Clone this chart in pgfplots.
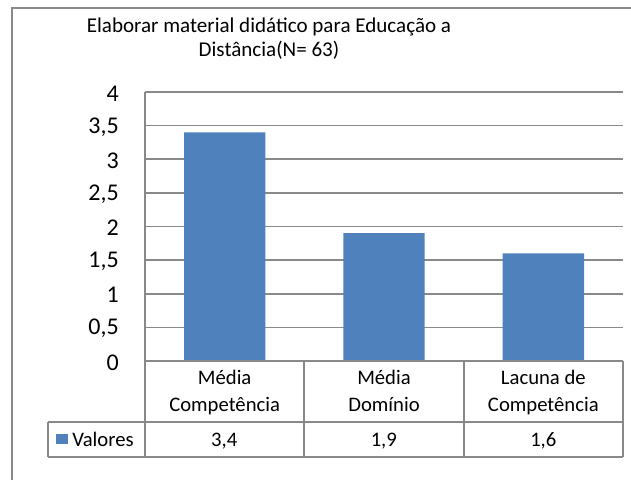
\documentclass[border=0pt]{standalone}
\usepackage{pgfplots}
\pgfplotsset{compat=1.18}
\usepackage{fontspec}
\setmainfont{Carlito}
\definecolor{barblue}{HTML}{4F81BD}
\definecolor{linegray}{HTML}{898989}
\newcommand{\twol}[2]{\vtop{\baselineskip=20.25pt\halign{\hfil##\hfil\cr#1\cr#2\cr}}}
\begin{document}
\begin{tikzpicture}[x=0.75pt,y=0.75pt]
\useasboundingbox (0,0) rectangle (631,479);
% outer frame (left and top edges visible)
\draw[linegray, line width=1.3pt] (12,-20) -- (12,471) -- (680,471);
% title
\node[anchor=base, inner sep=0pt, font=\fontsize{15.8}{19}\selectfont] at (269,446) {Elaborar material didático para Educação a};
\node[anchor=base, inner sep=0pt, font=\fontsize{15.8}{19}\selectfont] at (269,422) {Distância(N= 63)};
\begin{axis}[
  at={(108.75pt,88.5pt)}, anchor=south west,
  scale only axis, width=358.5pt, height=201.75pt,
  ymin=0, ymax=4, ytick={0,0.5,...,4},
  xmin=-0.5, xmax=2.5, xtick={0,1,2},
  xticklabels={{\twol{Média}{Competência}},{\twol{Média}{Domínio}},{\twol{Lacuna de}{Competência}}},
  axis x line*=bottom, axis y line*=left,
  axis line style={linegray, line width=1.3pt, -},
  ymajorgrids, major grid style={linegray, line width=1.3pt},
  major tick length=0pt,
  /pgf/number format/.cd, use comma, assume math mode=true,
  /pgfplots/.cd,
  yticklabel style={font=\fontsize{18}{20}\selectfont, anchor=east, inner sep=0pt, xshift=-19.5pt, yshift=-1pt},
  xticklabel style={font=\fontsize{15.5}{19}\selectfont, anchor=base, inner sep=0pt, yshift=-17.25pt},
  ybar, bar width=61pt, bar shift=0pt,
  clip=false,
]
\addplot[fill=barblue, draw=none] coordinates {(0,3.4) (1,1.9) (2,1.6)};
\end{axis}
% data table
\begin{scope}[linegray, line width=1.3pt]
\draw (145,118) -- (623,118);
\draw (48,57) -- (623,57);
\draw (48,22) -- (623,22);
\draw (48,22) -- (48,57);
\draw (145,22) -- (145,118);
\draw (304.3,22) -- (304.3,118);
\draw (463.7,22) -- (463.7,118);
\draw (623,22) -- (623,118);
\end{scope}
\fill[barblue] (56,35) rectangle (68,45);
\node[anchor=base west, inner sep=0pt, font=\fontsize{15.5}{19}\selectfont] at (72,33) {Valores};
\node[anchor=base, inner sep=0pt, font=\fontsize{15.5}{19}\selectfont] at (224.2,33) {3,4};
\node[anchor=base, inner sep=0pt, font=\fontsize{15.5}{19}\selectfont] at (383.8,33) {1,9};
\node[anchor=base, inner sep=0pt, font=\fontsize{15.5}{19}\selectfont] at (543.3,33) {1,6};
\end{tikzpicture}
\end{document}
